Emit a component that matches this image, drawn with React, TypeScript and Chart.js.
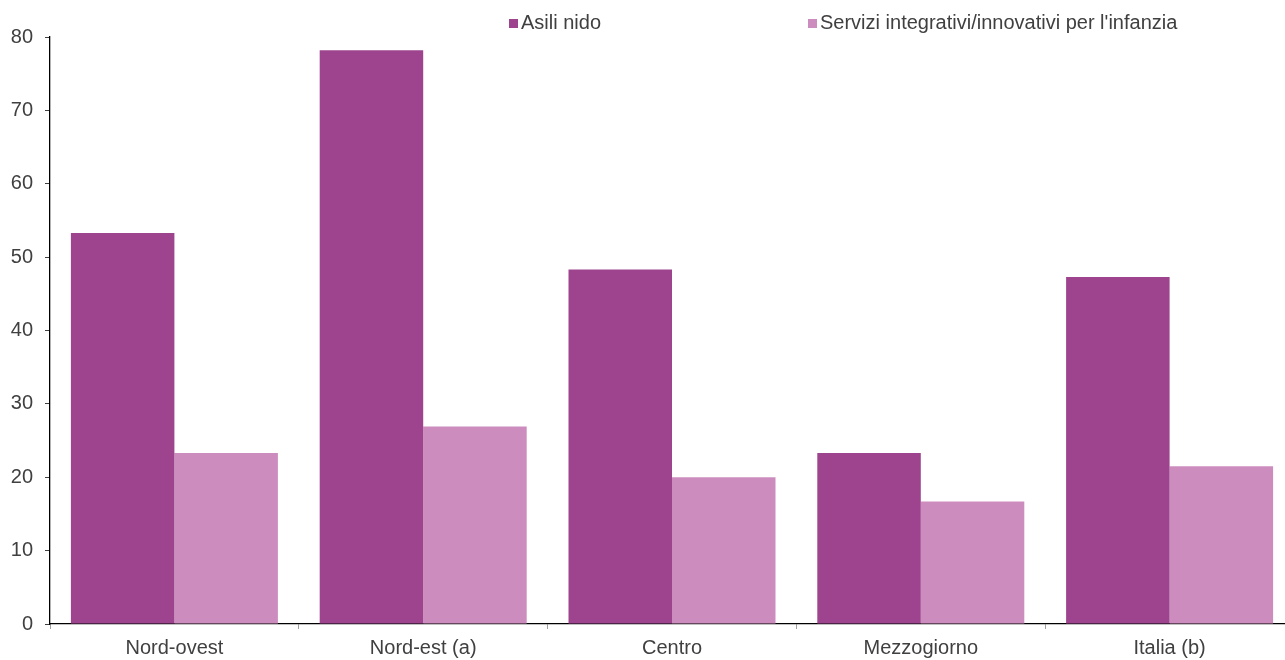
import React, { useEffect, useRef } from "react";
import { Chart, registerables } from "chart.js";

Chart.register(...registerables);

const categories = ["Nord-ovest", "Nord-est (a)", "Centro", "Mezzogiorno", "Italia (b)"];
const asiliNido = [53.3, 78.2, 48.3, 23.3, 47.3];
const serviziIntegrativi = [23.3, 26.9, 20.0, 16.7, 21.5];
const seriesLabels = ["Asili nido", "Servizi integrativi/innovativi per l'infanzia"];
const colors = ["#9E448E", "#CD8CBE"];

export default function App() {
  const ref = useRef<HTMLCanvasElement>(null);
  useEffect(() => {
    document.body.style.margin = "0";
    const ctx = ref.current!;
    const font = "'Liberation Sans', Arial, sans-serif";
    const chart = new Chart(ctx, {
      type: "bar",
      data: {
        labels: categories,
        datasets: [
          { label: seriesLabels[0], data: asiliNido, backgroundColor: colors[0], categoryPercentage: 0.832, barPercentage: 1 },
          { label: seriesLabels[1], data: serviziIntegrativi, backgroundColor: colors[1], categoryPercentage: 0.832, barPercentage: 1 },
        ],
      },
      options: {
        animation: false,
        responsive: false,
        maintainAspectRatio: false,
        layout: { padding: { top: 37, left: 0, right: 0, bottom: 0 } },
        plugins: { legend: { display: false }, tooltip: { enabled: false } },
        scales: {
          x: {
            grid: { drawOnChartArea: false, color: "#A0A0A0", tickLength: 5, offset: true },
            border: { color: "#000000", width: 1.3 },
            ticks: { color: "#404040", font: { family: font, size: 20 }, padding: 7 },
            afterFit: (s: any) => { s.height = 36; },
          },
          y: {
            min: 0,
            max: 80,
            grid: { drawOnChartArea: false, color: "#404040", tickLength: 5 },
            border: { color: "#000000", width: 1.3 },
            ticks: { stepSize: 10, color: "#404040", font: { family: font, size: 20 }, padding: 12 },
            afterFit: (s: any) => { s.width = 50; },
          },
        },
      },
    });
    return () => chart.destroy();
  }, []);

  const legendText: React.CSSProperties = {
    position: "absolute",
    top: 11,
    fontFamily: "'Liberation Sans', Arial, sans-serif",
    fontSize: 20,
    color: "#404040",
    whiteSpace: "nowrap",
    lineHeight: "22px",
  };
  const box = (c: string): React.CSSProperties => ({
    display: "inline-block",
    width: 9,
    height: 9,
    background: c,
    marginRight: 3,
    verticalAlign: "1px",
  });

  return (
    <div style={{ position: "relative", width: 1285, height: 660, overflow: "hidden", background: "#fff" }}>
      <canvas ref={ref} width={1294} height={660} style={{ position: "absolute", left: 0, top: 0, width: 1294, height: 660 }} />
      <div style={{ ...legendText, left: 509 }}>
        <span style={box(colors[0])} />
        {seriesLabels[0]}
      </div>
      <div style={{ ...legendText, left: 808 }}>
        <span style={box(colors[1])} />
        {seriesLabels[1]}
      </div>
    </div>
  );
}
